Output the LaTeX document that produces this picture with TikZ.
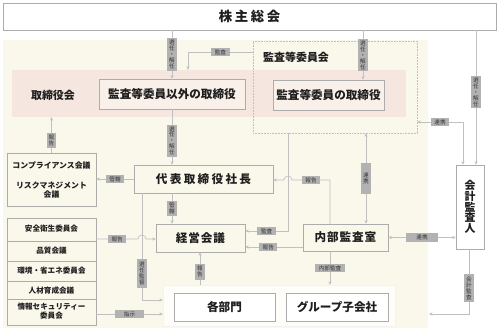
\documentclass[tikz,border=0pt]{standalone}
\usepackage{fontspec}
\setmainfont{Noto Sans CJK JP}
\newfontfamily\widejp[LetterSpace=20]{Noto Sans CJK JP}
\newfontfamily\midjp[LetterSpace=8]{Noto Sans CJK JP}
\usetikzlibrary{arrows.meta}
\definecolor{cream}{RGB}{250,247,235}
\definecolor{pinkband}{RGB}{245,231,224}
\definecolor{pinkbox}{RGB}{249,240,234}
\definecolor{edgegray}{RGB}{172,172,172}
\definecolor{linegray}{RGB}{192,192,192}
\definecolor{tagfill}{RGB}{178,178,178}
\definecolor{tagtext}{RGB}{50,50,50}
\definecolor{inktext}{RGB}{30,30,30}

\begin{document}
\begin{tikzpicture}[x=0.5mm, y=-0.5mm,
  box/.style={draw=edgegray, line width=0.7pt, fill=cream, inner sep=0pt, text=inktext,
    font=\bfseries\fontsize{16.5}{18}\selectfont},
  side/.style={inner sep=0pt, align=center, text=inktext, font=\bfseries\fontsize{10.8}{13}\selectfont},
  conn/.style={draw=linegray, line width=0.9pt, -{Stealth[length=5pt,width=4.5pt]}},
  both/.style={conn, {Stealth[length=5pt,width=4.5pt]}-{Stealth[length=5pt,width=4.5pt]}},
  tag/.style={fill=tagfill, text=tagtext, inner xsep=5pt, inner ysep=2pt,
    font=\fontsize{8}{8.5}\selectfont},
  vtag/.style={tag, align=center, inner xsep=2.5pt, inner ysep=2.5pt}]

  \useasboundingbox (0,0) rectangle (499,333);
  \fill[white] (0,0) rectangle (499,333);
  \fill[cream] (3,40) rectangle (428,328);

  \node[box, fill=white, minimum width=246.5mm, minimum height=13.5mm,
    font=\widejp\bfseries\fontsize{19}{20}\selectfont] (soukai) at (249.5,16.5) {株主総会};
  \node[fill=pinkband, inner sep=0pt, minimum width=197mm, minimum height=23.5mm] (board) at (209,93.5) {};
  \node[draw=linegray, line width=0.6pt, dash pattern=on 1pt off 1.2pt, inner sep=0pt,
    minimum width=82mm, minimum height=46mm] (iinkai) at (335,87) {};
  \node[side, font=\bfseries\fontsize{15.6}{17}\selectfont] (torikai) at (53,95) {取締役会};
  \node[side, anchor=west, font=\bfseries\fontsize{15.6}{17}\selectfont] (iinkaitxt) at (263,57) {監査等委員会};

  \node[box, fill=pinkbox, minimum width=73mm, minimum height=15mm] (tori1) at (172,94) {監査等委員以外の取締役};
  \node[box, fill=pinkbox, minimum width=55.5mm, minimum height=15mm] (tori2) at (328.5,95) {監査等委員の取締役};
  \node[box, minimum width=69.5mm, minimum height=14mm, font=\widejp\bfseries\fontsize{16.5}{18}\selectfont] (ceo) at (203.5,179) {代表取締役社長};
  \node[box, minimum width=44.5mm, minimum height=14mm, font=\midjp\bfseries\fontsize{16.5}{18}\selectfont] (keiei) at (200.5,238) {経営会議};
  \node[box, minimum width=42.5mm, minimum height=13.5mm, font=\midjp\bfseries\fontsize{16.5}{18}\selectfont] (naibu) at (345.5,237.5) {内部監査室};
  \node[box, fill=white, minimum width=14mm, minimum height=42mm, align=center,
    font=\bfseries\fontsize{15.5}{15.2}\selectfont] (kaikei) at (470,207) {会\\計\\監\\査\\人};

  \node[box, minimum width=44.5mm, minimum height=26.5mm] (comp) at (51.5,179.5) {};
  \node[side, font=\bfseries\fontsize{11.2}{13}\selectfont] (comp1) at (51.5,165) {コンプライアンス会議};
  \node[side, font=\bfseries\fontsize{11.2}{13}\selectfont] (comp2) at (51.5,190.5) {リスクマネジメント\\会議};

  \node[box, minimum width=44.5mm, minimum height=53.5mm] (committee) at (51.5,271.5) {};
  \foreach \y in {241,261,281,299}
    \draw[edgegray, line width=0.7pt] (7,\y) -- (96,\y);
  \node[side] (anzen) at (51.5,229) {安全衛生委員会};
  \node[side] (hinshitsu) at (51.5,250.5) {品質会議};
  \node[side] (kankyo) at (51.5,271) {環境・省エネ委員会};
  \node[side] (jinzai) at (51.5,290.5) {人材育成会議};
  \node[side] (joho) at (51.5,311) {情報セキュリティー\\委員会};

  \node[draw=cream!80!gray!40, fill=white!70!cream, inner sep=0pt, minimum width=116mm, minimum height=20.5mm] (group) at (279,305.5) {};
  \node[box, fill=white, minimum width=50.5mm, minimum height=14mm] (bumon) at (224.5,307) {各部門};
  \node[box, fill=white, minimum width=51mm, minimum height=14mm] (kogaisha) at (337,307) {グループ子会社};

  \coordinate (c1) at (363,0);
  \coordinate (c2) at (476,0);
  \coordinate (c3) at (188,52);
  \coordinate (c4) at (463,122);
  \coordinate (c5) at (330,180);
  \coordinate (c6) at (366,0);
  \coordinate (c7) at (288,231);
  \coordinate (c8) at (469,314);
  \coordinate (c9) at (142,300);
  \coordinate (c10) at (200,0);
  \coordinate (c11) at (429,0);
  \coordinate (c12) at (0,247);
  \coordinate (c13) at (0,239);
  \coordinate (c14) at (0,314);
  \coordinate (hopj) at (292,180);
  \coordinate (hopp) at (138,239);

  \draw[conn] (soukai.south -| tori1.north) -- node[vtag]{選\\任\\・\\解\\任} (tori1.north);
  \draw[conn] (soukai.south -| c1) -- node[vtag]{選\\任\\・\\解\\任} (tori2.north -| c1);
  \draw[conn] (soukai.south -| c2) -- node[vtag, pos=0.46]{選\\任\\・\\解\\任} (kaikei.north -| c2);
  \draw[conn] (iinkai.west |- c3) -- node[tag]{監査} (c3) -- (c3 |- board.north);
  \draw[both] (kaikei.north -| c4) -- (c4) -- node[tag, minimum width=19pt]{連携} (c4 -| iinkai.east);
  \draw[conn] (tori1.south) -- node[vtag, pos=0.57]{選\\任\\・\\解\\任} (tori1.south |- ceo.north);
  \draw[conn] (comp.north) -- node[vtag, pos=0.35]{報\\告} (comp.north |- board.south);
  \draw[conn] (ceo.west) -- node[tag]{管轄} (ceo.west -| comp.east);
  \draw[conn] (ceo.south -| tori1.south) -- node[vtag]{管\\轄} (keiei.north -| tori1.south);
  \draw[conn] (naibu.north -| c5) -- (c5) -- node[tag]{報告} (hopj)
    arc[start angle=0, end angle=180, radius=2mm] -- (ceo.east |- c5);
  \draw[both] (iinkai.south -| c6) -- node[vtag, minimum height=44pt]{連\\携} (naibu.north -| c6);
  \draw[conn] (iinkai.south -| c7) -- (c7) -- node[tag]{監査} (c7 -| keiei.east);
  \draw[conn] (naibu.west |- c12) -- node[tag, pos=0.6]{報告} (keiei.east |- c12);
  \draw[both] (naibu.east) -- node[tag, minimum width=46pt]{連携} (naibu.east -| kaikei.west);
  \draw[conn] (kaikei.south -| c8) -- node[vtag, pos=0.6, inner ysep=4pt]{会\\計\\監\\査} (c8) -- (c8 -| c11);
  \draw[conn] (committee.east |- c13) -- node[tag]{報告} (hopp)
    arc[start angle=180, end angle=0, radius=2mm] -- (keiei.west |- c13);
  \draw[conn] (ceo.south -| c9) -- node[vtag, pos=0.75, inner ysep=4pt]{選\\任\\監\\督} (c9) -- (c9 -| group.west);
  \draw[conn] (committee.east |- c14) -- node[tag, minimum width=40pt]{指示} (group.west |- c14);
  \draw[conn] (group.north -| c10) -- node[vtag, pos=0.4, inner ysep=3.5pt]{報\\告} (keiei.south -| c10);
  \draw[conn] (naibu.south -| c5) -- node[tag]{内部監査} (group.north -| c5);
\end{tikzpicture}
\end{document}
